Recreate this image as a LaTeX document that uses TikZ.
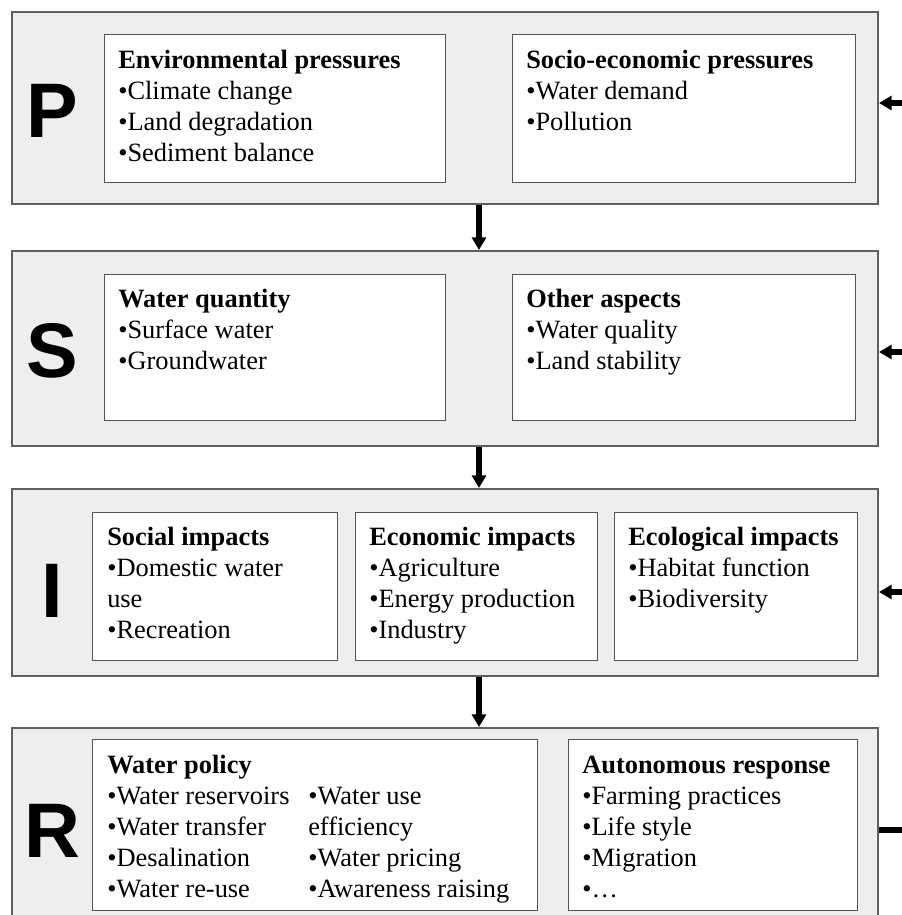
\documentclass[tikz,border=0pt]{standalone}
\usepackage{fontspec}
\setmainfont{Liberation Serif}
\newfontfamily\arialfont{Liberation Sans}
\usetikzlibrary{arrows.meta,calc}
\definecolor{outerfill}{RGB}{238,238,238}
\definecolor{outerline}{RGB}{95,95,95}
\definecolor{innerline}{RGB}{85,85,85}
\begin{document}
\begin{tikzpicture}[x=0.75pt,y=-0.75pt,
  outerbox/.style={draw=outerline,fill=outerfill,line width=1.5pt,anchor=north west,inner sep=0pt,minimum width=649.5pt},
  innerbox/.style={draw=innerline,fill=white,line width=1pt,anchor=north west,inner sep=0pt},
  boxtext/.style={anchor=north west,inner sep=0pt,align=left,font=\fontsize{19.8pt}{23.25pt}\selectfont},
  bigletter/.style={anchor=base,inner sep=0pt,font=\arialfont\bfseries\fontsize{58pt}{60pt}\selectfont},
  flow/.style={line width=3.8pt,-{Triangle[length=9.5pt,width=10.5pt]}},
  feed/.style={line width=3.8pt}]
\clip (0,0) rectangle (902,915);
\fill[white] (0,0) rectangle (902,915);

% outer boxes
\node[outerbox,minimum height=144pt] (P) at (11,11) {};
\node[outerbox,minimum height=146.25pt] (S) at (11,250) {};
\node[outerbox,minimum height=140.25pt] (I) at (11,488) {};
\node[outerbox,minimum height=150pt] (R) at (11,727) {};

% big letters
\node[bigletter] (LP) at (52,137) {P};
\node[bigletter] (LS) at (52,377) {S};
\node[bigletter] (LI) at (52,617) {I};
\node[bigletter] (LR) at (52,857) {R};

% P row
\node[innerbox,minimum width=255.75pt,minimum height=111pt] (Pe) at (104,34) {};
\node[innerbox,minimum width=257.25pt,minimum height=111pt] (Ps) at (512,34) {};
\node[boxtext] (tPe) at ($(Pe.north west)+(14,12.3)$) {\strut\textbf{Environmental pressures}\\•Climate change\\•Land degradation\\•Sediment balance};
\node[boxtext] (tPs) at ($(Ps.north west)+(14,12.3)$) {\strut\textbf{Socio-economic pressures}\\•Water demand\\•Pollution};

% S row
\node[innerbox,minimum width=255.75pt,minimum height=109.5pt] (Sq) at (104,274) {};
\node[innerbox,minimum width=257.25pt,minimum height=109.5pt] (So) at (512,274) {};
\node[boxtext] (tSq) at ($(Sq.north west)+(14,11.3)$) {\strut\textbf{Water quantity}\\•Surface water\\•Groundwater};
\node[boxtext] (tSo) at ($(So.north west)+(14,11.3)$) {\strut\textbf{Other aspects}\\•Water quality\\•Land stability};

% I row
\node[innerbox,minimum width=183.75pt,minimum height=111pt] (Is) at (92,512) {};
\node[innerbox,minimum width=181.5pt,minimum height=111pt] (Ie) at (355,512) {};
\node[innerbox,minimum width=182.25pt,minimum height=111pt] (Il) at (614,512) {};
\node[boxtext] (tIs) at ($(Is.north west)+(15,11.3)$) {\strut\textbf{Social impacts}\\•Domestic water\\use\\•Recreation};
\node[boxtext] (tIe) at ($(Ie.north west)+(14,11.3)$) {\strut\textbf{Economic impacts}\\•Agriculture\\•Energy production\\•Industry};
\node[boxtext] (tIl) at ($(Il.north west)+(14,11.3)$) {\strut\textbf{Ecological impacts}\\•Habitat function\\•Biodiversity};

% R row
\node[innerbox,minimum width=333.75pt,minimum height=128.25pt] (Rw) at (92,739) {};
\node[innerbox,minimum width=216.75pt,minimum height=128.25pt] (Ra) at (568,739) {};
\node[boxtext] (tRw) at ($(Rw.north west)+(15,12.3)$) {\strut\textbf{Water policy}\\•Water reservoirs\\•Water transfer\\•Desalination\\•Water re-use};
\node[boxtext] (tRw2) at ($(Rw.north west)+(216,43.3)$) {\strut•Water use\\efficiency\\•Water pricing\\•Awareness raising};
\node[boxtext] (tRa) at ($(Ra.north west)+(14,12.3)$) {\strut\textbf{Autonomous response}\\•Farming practices\\•Life style\\•Migration\\•…};

% vertical flow arrows
\coordinate (mid) at (479,0);
\draw[flow] (P.south -| mid) -- (S.north -| mid);
\draw[flow] (S.south -| mid) -- (I.north -| mid);
\draw[flow] (I.south -| mid) -- (R.north -| mid);

% feedback from the right edge
\coordinate (eP) at (906,103);
\coordinate (eS) at (906,352);
\coordinate (eI) at (906,592);
\coordinate (eR) at (906,830);
\draw[flow] (eP) -- (P.east |- eP);
\draw[flow] (eS) -- (S.east |- eS);
\draw[flow] (eI) -- (I.east |- eI);
\draw[feed] (R.east |- eR) -- (eR);
\end{tikzpicture}
\end{document}
